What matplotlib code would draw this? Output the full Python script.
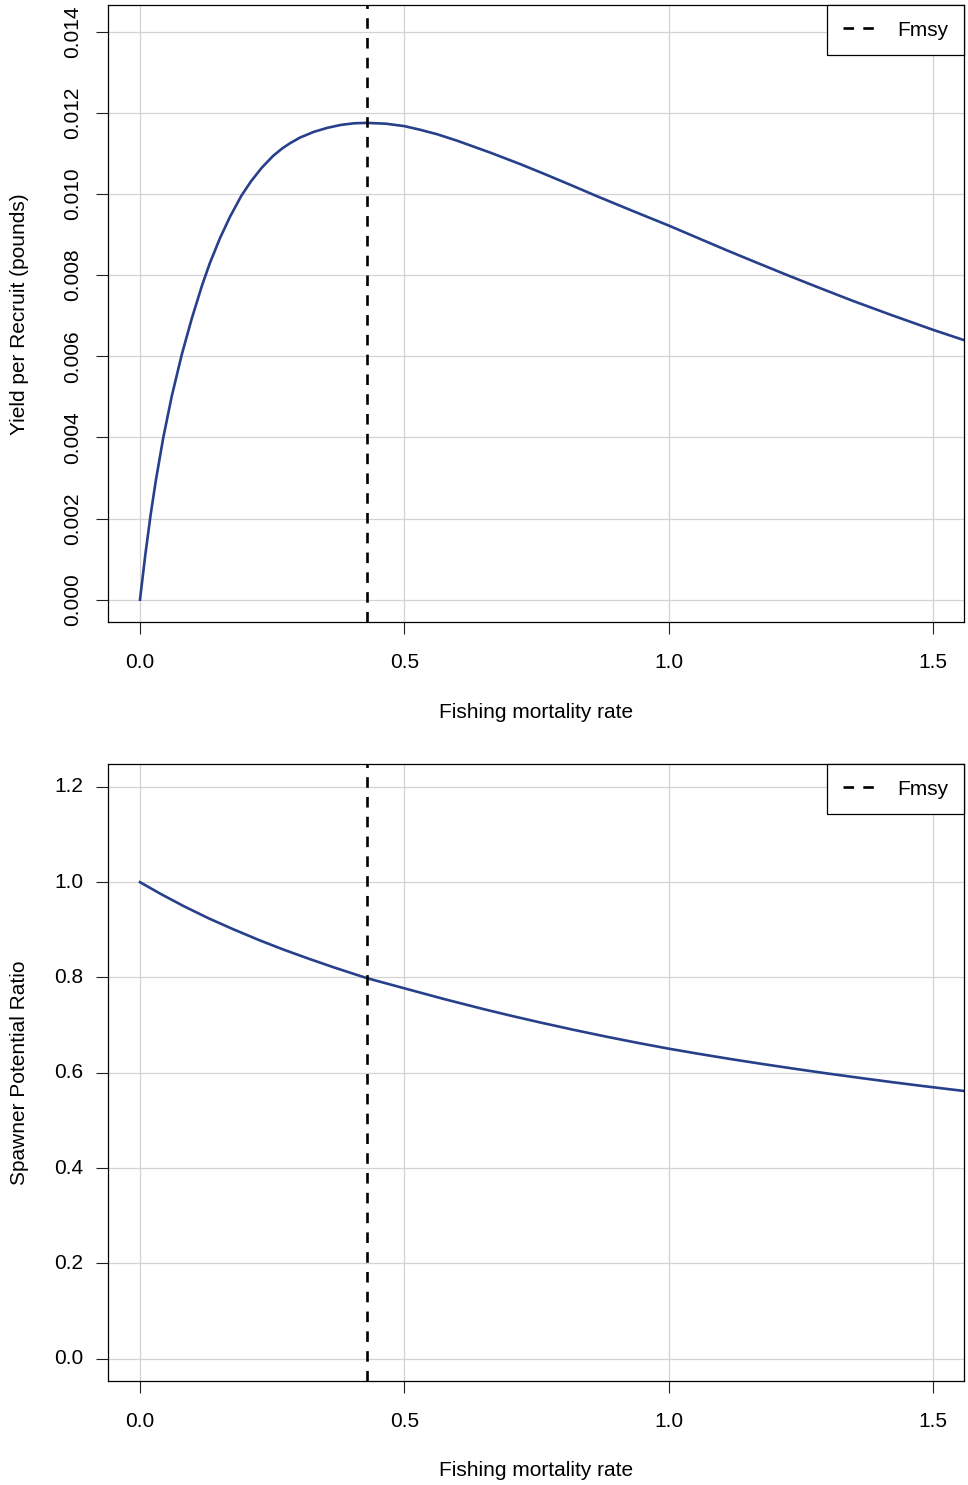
import matplotlib
matplotlib.use("Agg")
import matplotlib.pyplot as plt
from matplotlib.lines import Line2D

plt.rcParams['font.family'] = ['Liberation Sans', 'DejaVu Sans']

# ---- data ----
fmsy = 0.429

ypr_F = [0, 0.010, 0.020, 0.030, 0.044, 0.060, 0.079, 0.098, 0.117, 0.132,
         0.151, 0.170, 0.192, 0.210, 0.230, 0.252, 0.270, 0.284, 0.303, 0.329,
         0.355, 0.380, 0.405, 0.429, 0.465, 0.500, 0.530, 0.562, 0.600, 0.664,
         0.720, 0.767, 0.820, 0.863, 0.930, 1.0, 1.054, 1.108, 1.160, 1.224,
         1.280, 1.347, 1.420, 1.500, 1.560]
ypr = [0, 0.00110, 0.00208, 0.00294, 0.00399, 0.00501, 0.00604, 0.00693, 0.00773, 0.00829,
       0.00890, 0.00943, 0.00996, 0.01031, 0.01064, 0.01094, 0.01113, 0.01125, 0.01139, 0.01153,
       0.01163, 0.01170, 0.01174, 0.01175, 0.01173, 0.01167, 0.01158, 0.01147, 0.01131, 0.01101,
       0.01073, 0.01048, 0.01019, 0.00995, 0.00959, 0.00922, 0.00892, 0.00862, 0.00834, 0.00800,
       0.00771, 0.00737, 0.00702, 0.00665, 0.00639]

spr_F = [0, 0.040, 0.083, 0.130, 0.178, 0.225, 0.272, 0.320, 0.367, 0.429,
         0.500, 0.575, 0.650, 0.700, 0.757, 0.820, 0.883, 0.940, 1.0, 1.060,
         1.120, 1.180, 1.240, 1.300, 1.360, 1.420, 1.480, 1.560]
spr = [1.0, 0.9748, 0.9495, 0.9240, 0.9004, 0.8785, 0.8582, 0.8390, 0.8210, 0.7986,
       0.7772, 0.7547, 0.7335, 0.7201, 0.7055, 0.6901, 0.6755, 0.6630, 0.6505, 0.6391,
       0.6282, 0.6179, 0.6080, 0.5985, 0.5894, 0.5806, 0.5722, 0.5615]

x_ticks = [0.0, 0.5, 1.0, 1.5]
x_ticklabels = ["0.0", "0.5", "1.0", "1.5"]
ypr_ticks = [0.000, 0.002, 0.004, 0.006, 0.008, 0.010, 0.012, 0.014]
ypr_ticklabels = ["0.000", "0.002", "0.004", "0.006", "0.008", "0.010", "0.012", "0.014"]
spr_ticks = [0.0, 0.2, 0.4, 0.6, 0.8, 1.0, 1.2]
spr_ticklabels = ["0.0", "0.2", "0.4", "0.6", "0.8", "1.0", "1.2"]

xlabel = "Fishing mortality rate"
ypr_label = "Yield per Recruit (pounds)"
spr_label = "Spawner Potential Ratio"
legend_label = "Fmsy"

# ---- styling ----
W, H = 968, 1485
DPI = 100
fig = plt.figure(figsize=(W / DPI, H / DPI), dpi=DPI)

LINE_COLOR = "#27408B"
GRID_COLOR = "#D3D3D3"
FS = 15
XLIM = (-0.0605, 1.5585)
DASH = (0, (4, 3.5))


def px_axes(left, top, right, bottom):
    return fig.add_axes([left / W, 1 - bottom / H, (right - left) / W, (bottom - top) / H])


def style(ax, yticks, yticklabels, rot):
    ax.set_xlim(*XLIM)
    ax.set_xticks(x_ticks)
    ax.set_xticklabels(x_ticklabels, fontsize=FS)
    ax.set_yticks(yticks)
    ax.set_yticklabels(yticklabels, fontsize=FS, rotation=rot,
                       va='center', ha='center' if rot == 90 else 'right')
    ax.grid(True, color=GRID_COLOR, linewidth=0.9)
    ax.set_axisbelow(True)
    for s in ax.spines.values():
        s.set_linewidth(0.9)
        s.set_color('black')
    ax.tick_params(axis='both', direction='out', length=8.6, width=0.8, color='#222222')
    ax.tick_params(axis='x', pad=14)
    if rot == 90:
        ax.tick_params(axis='y', pad=17)
    else:
        ax.tick_params(axis='y', pad=9)


def add_legend(ax):
    h = Line2D([], [], color='black', linewidth=1.9, linestyle=DASH)
    leg = ax.legend([h], [legend_label], loc='upper right', fontsize=FS,
                    frameon=True, fancybox=False, borderaxespad=0,
                    handlelength=1.55, handletextpad=1.05, borderpad=0.75,
                    edgecolor='black', framealpha=1)
    leg.get_frame().set_linewidth(0.9)


# Top panel: yield per recruit
ax1 = px_axes(108, 5, 964, 622)
ax1.plot(ypr_F, ypr, color=LINE_COLOR, linewidth=1.9, solid_joinstyle='round')
ax1.axvline(fmsy, color='black', linewidth=1.9, linestyle=DASH)
ax1.set_ylim(-0.00055, 0.014655)
style(ax1, ypr_ticks, ypr_ticklabels, 90)
add_legend(ax1)

# Bottom panel: spawner potential ratio
ax2 = px_axes(108, 764, 964, 1381)
ax2.plot(spr_F, spr, color=LINE_COLOR, linewidth=1.9, solid_joinstyle='round')
ax2.axvline(fmsy, color='black', linewidth=1.9, linestyle=DASH)
ax2.set_ylim(-0.047, 1.248)
style(ax2, spr_ticks, spr_ticklabels, 0)
add_legend(ax2)

# Axis titles at reference pixel positions
fig.text(536 / W, 1 - 712 / H, xlabel, ha='center', va='center', fontsize=FS)
fig.text(536 / W, 1 - 1471 / H, xlabel, ha='center', va='center', fontsize=FS)
fig.text(20 / W, 1 - 314 / H, ypr_label, ha='center', va='center', rotation=90, fontsize=FS)
fig.text(20 / W, 1 - 1073 / H, spr_label, ha='center', va='center', rotation=90, fontsize=FS)

fig.savefig("out.png", dpi=DPI, facecolor='white')
